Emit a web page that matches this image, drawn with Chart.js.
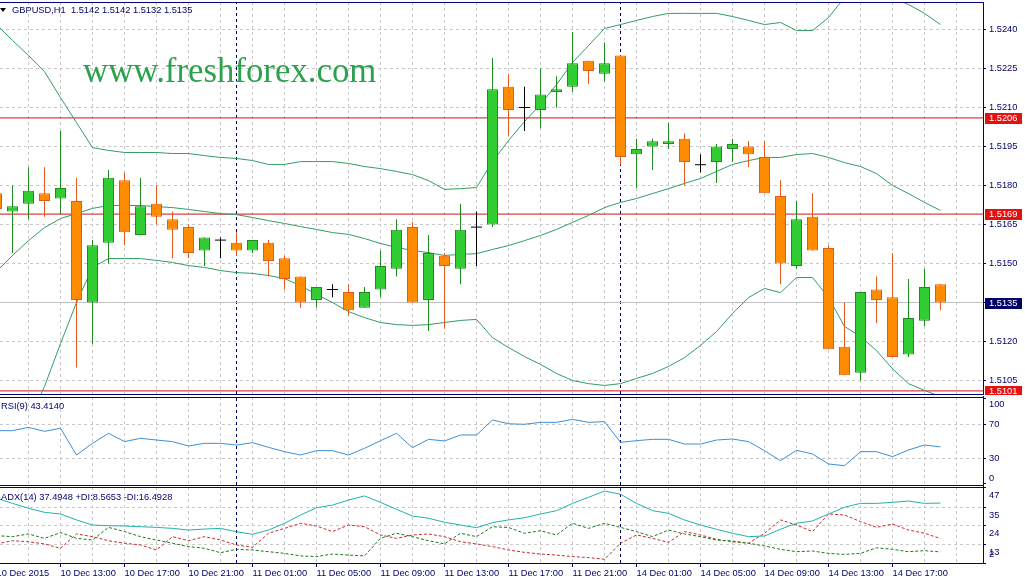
<!DOCTYPE html>
<html>
<head>
<meta charset="utf-8">
<title>GBPUSD,H1</title>
<script src="https://cdn.jsdelivr.net/npm/chart.js@4.4.1/dist/chart.umd.min.js"></script>
<style>
  html, body { margin:0; padding:0; background:#ffffff; }
  body { position:relative; width:1025px; height:585px; overflow:hidden; font-family:"Liberation Sans", Arial, sans-serif; }
  canvas { position:absolute; left:0; }
  #cMain { top:0; }
  #cRsi { top:396px; }
  #cAdx { top:486px; }
  .lbl { position:absolute; color:#000070; font-size:9.3px; line-height:12px; white-space:pre; }
  #title { left:12px; top:3.5px; }
  #tri { position:absolute; left:0; top:8px; width:0; height:0; border-left:3px solid transparent; border-right:3px solid transparent; border-top:4px solid #000; }
  #rsiLbl { left:1px; top:400px; }
  #adxLbl { left:1px; top:491px; }
  #wm { position:absolute; left:83px; top:54px; font-family:"Liberation Serif", "Times New Roman", serif; font-size:34.8px; line-height:34.5px; color:#2ba24c; white-space:pre; }
</style>
</head>
<body>
<canvas id="cMain" width="1025" height="395"></canvas>
<canvas id="cRsi" width="1025" height="90"></canvas>
<canvas id="cAdx" width="1025" height="99"></canvas>
<div id="tri"></div>
<div class="lbl" id="title">GBPUSD,H1  1.5142 1.5142 1.5132 1.5135</div>
<div id="wm">www.freshforex.com</div>
<div class="lbl" id="rsiLbl">RSI(9) 43.4140</div>
<div class="lbl" id="adxLbl">ADX(14) 37.4948 +DI:8.5653 -DI:16.4928</div>
<script>
// ================= DATA (bar -1 .. bar 58, hourly, 10 Dec 09:00 .. 14 Dec 20:00) =================
const firstBar = -1;
const open = [1.5177,1.5170,1.5173,1.5177,1.5175,1.5174,1.5135,1.5158,1.5182,1.5161,
  1.5173,1.5167,1.5164,1.5155,1.5159,1.5158,1.5155,1.5158,1.5152,1.5145,
  1.5136,1.5140,1.5139,1.5133,1.5140,1.5148,1.5164,1.5136,1.5153,1.5148,
  1.5164,1.5165,1.5218,1.5210,1.5209,1.5216,1.5218,1.5228,1.5223,1.5230,
  1.5192,1.5195,1.5196,1.5198,1.5188,1.5189,1.5194,1.5195,1.5191,1.5176,
  1.5149,1.5168,1.5156,1.5118,1.5108,1.5140,1.5137,1.5115,1.5128,1.5142];
const high = [1.5181,1.5180,1.5187,1.5187,1.5201,1.5183,1.5159,1.5186,1.5185,1.5183,
  1.5180,1.5170,1.5165,1.5160,1.5160,1.5162,1.5159,1.5159,1.5153,1.5145,
  1.5141,1.5142,1.5142,1.5141,1.5155,1.5167,1.5166,1.5161,1.5154,1.5173,
  1.5170,1.5229,1.5223,1.5218,1.5225,1.5222,1.5239,1.5228,1.5235,1.5230,
  1.5198,1.5198,1.5204,1.5200,1.5192,1.5196,1.5198,1.5197,1.5197,1.5182,
  1.5174,1.5177,1.5157,1.5135,1.5139,1.5145,1.5154,1.5144,1.5148,1.5142];
const low = [1.5166,1.5154,1.5167,1.5168,1.5169,1.5110,1.5119,1.5150,1.5157,1.5161,
  1.5165,1.5152,1.5152,1.5149,1.5152,1.5153,1.5154,1.5145,1.5140,1.5133,
  1.5133,1.5137,1.5130,1.5133,1.5137,1.5145,1.5135,1.5124,1.5125,1.5142,
  1.5149,1.5164,1.5199,1.5201,1.5202,1.5210,1.5216,1.5219,1.5220,1.5188,
  1.5179,1.5186,1.5194,1.5180,1.5185,1.5181,1.5189,1.5187,1.5177,1.5142,
  1.5148,1.5155,1.5117,1.5107,1.5105,1.5127,1.5114,1.5114,1.5126,1.5132];
const close = [1.5171,1.5172,1.5178,1.5174,1.5179,1.5136,1.5157,1.5183,1.5162,1.5172,
  1.5168,1.5163,1.5154,1.5160,1.5159,1.5155,1.5159,1.5151,1.5144,1.5135,
  1.5141,1.5140,1.5132,1.5139,1.5149,1.5163,1.5135,1.5154,1.5149,1.5163,
  1.5164,1.5217,1.5209,1.5210,1.5215,1.5217,1.5227,1.5224,1.5227,1.5191,
  1.5194,1.5197,1.5197,1.5189,1.5188,1.5195,1.5196,1.5192,1.5177,1.5150,
  1.5167,1.5155,1.5117,1.5107,1.5139,1.5136,1.5114,1.5129,1.5141,1.5135];
const bbUpper = [1.52419,1.52358,1.52300,1.52238,1.52138,1.52042,1.51946,1.51935,1.51927,1.51927,
  1.51927,1.51923,1.51923,1.51915,1.51908,1.51904,1.51896,1.51881,1.51881,1.51892,
  1.51892,1.51892,1.51885,1.51873,1.51865,1.51854,1.51842,1.51819,1.51785,1.51788,
  1.51792,1.51892,1.51973,1.52046,1.52112,1.52188,1.52273,1.52338,1.52404,1.52419,
  1.52435,1.52450,1.52462,1.52462,1.52462,1.52462,1.52450,1.52435,1.52419,1.52427,
  1.52396,1.52396,1.52446,1.52523,1.52558,1.52558,1.52523,1.52496,1.52462,1.52419];
const bbMiddle = [1.51469,1.51531,1.51588,1.51638,1.51673,1.51692,1.51712,1.51723,1.51723,1.51723,
  1.51719,1.51715,1.51708,1.51700,1.51692,1.51688,1.51677,1.51665,1.51654,1.51642,
  1.51631,1.51619,1.51612,1.51596,1.51577,1.51562,1.51550,1.51542,1.51531,1.51535,
  1.51538,1.51554,1.51569,1.51588,1.51608,1.51631,1.51658,1.51685,1.51715,1.51735,
  1.51750,1.51769,1.51788,1.51808,1.51827,1.51854,1.51881,1.51896,1.51908,1.51908,
  1.51919,1.51923,1.51908,1.51888,1.51873,1.51846,1.51800,1.51769,1.51735,1.51704];
const bbLower = [1.50704,1.50781,1.50896,1.51027,1.51192,1.51350,1.51485,1.51519,1.51519,1.51519,
  1.51512,1.51504,1.51492,1.51485,1.51473,1.51465,1.51462,1.51454,1.51442,1.51415,
  1.51381,1.51350,1.51315,1.51292,1.51273,1.51265,1.51262,1.51265,1.51273,1.51281,
  1.51285,1.51215,1.51177,1.51142,1.51112,1.51077,1.51050,1.51038,1.51031,1.51038,
  1.51058,1.51077,1.51104,1.51138,1.51185,1.51238,1.51308,1.51369,1.51404,1.51388,
  1.51446,1.51446,1.51369,1.51258,1.51219,1.51165,1.51095,1.51038,1.51012,1.50988];
const rsi = [62.5,62.5,66.4,61.7,65.3,33.9,47.6,59.4,49.6,53.5,
  51.5,49.6,44.5,47.6,47.6,45.6,48.4,42.9,37.8,33.9,
  39.0,39.0,33.9,41.7,50.7,59.4,42.5,52.3,50.4,57.4,
  57.4,75.1,70.6,70.0,72.3,72.3,75.8,72.3,73.1,48.8,
  50.7,52.3,52.3,46.8,46.8,51.5,52.7,49.6,39.0,27.2,
  39.4,35.1,23.3,21.3,37.8,37.8,31.9,39.8,45.6,43.41];
const adx = [40.3,37.3,34.4,32.0,31.0,27.5,24.5,24.1,23.9,23.5,
  23.1,22.5,21.5,22.1,22.5,20.5,19.0,21.5,25.5,30.4,
  34.7,36.3,39.3,41.7,37.9,33.8,29.8,28.5,26.1,24.5,
  22.9,25.9,27.5,28.8,31.0,33.0,37.3,40.9,44.6,42.7,
  37.3,33.0,31.4,27.5,24.5,22.0,19.6,17.6,18.0,22.0,
  25.5,26.9,31.0,35.0,37.3,37.3,37.9,38.7,37.3,37.49];
const plusDI = [18.2,17.6,19.2,16.6,20.0,16.6,15.6,23.1,20.6,17.6,
  15.6,13.7,11.7,10.7,8.1,10.1,9.7,8.7,7.7,6.2,
  5.8,7.3,6.7,6.2,16.6,19.6,17.6,15.2,13.3,19.6,
  17.6,23.5,23.0,19.6,21.1,18.6,25.5,22.5,25.5,23.1,
  20.6,17.6,21.5,19.2,17.6,15.6,15.0,13.7,12.1,10.1,
  8.7,9.1,7.7,7.1,7.7,11.0,10.1,8.7,9.3,8.57];
const minusDI = [13.3,15.2,14.6,13.3,10.7,19.2,17.6,15.2,13.7,12.7,
  9.7,17.6,15.2,17.6,15.6,12.7,11.3,19.6,22.5,25.5,
  23.9,20.6,24.5,23.5,18.6,16.6,18.6,19.2,17.6,14.6,
  13.3,11.7,9.7,8.3,7.3,6.7,5.8,5.2,4.2,13.7,
  18.6,16.6,14.2,20.6,18.6,16.0,14.6,13.7,19.6,27.5,
  24.5,20.6,31.0,30.4,26.5,23.1,25.1,21.5,19.6,16.49];

const priceTicks = [1.5105,1.5120,1.5135,1.5150,1.5165,1.5180,1.5195,1.5210,1.5225,1.5240];
const rsiTicks = [0,30,70,100];
const rsiLevels = [30,70];
const adxTicks = [2,13,24,35,47];
const adxGridLevels = [13,24,35];
const timeTickBars = [-1,3,7,11,15,19,23,27,31,35,39,43,47,51,55];
const timeTickLabels = ['10 Dec 2015','10 Dec 13:00','10 Dec 17:00','10 Dec 21:00','11 Dec 01:00',
  '11 Dec 05:00','11 Dec 09:00','11 Dec 13:00','11 Dec 17:00','11 Dec 21:00','14 Dec 01:00',
  '14 Dec 05:00','14 Dec 09:00','14 Dec 13:00','14 Dec 17:00'];
const daySeparators = [14,38];
const levelLines = [1.5206,1.5169,1.5101];
const bidPrice = 1.5135;

// ================= VIEW =================
const X_MIN = -0.78125, X_MAX = 60.65625;
const P_MIN = 1.509981, P_MAX = 1.525058;
const RSI_MIN = -1.4, RSI_MAX = 102.1;
const ADX_MIN = 2, ADX_MAX = 47;

const TEXT = '#000070', AXIS = '#000080', GRID = '#c8c8c8';
const BULL = '#32CD32', BULL_EDGE = '#1E8B1E', BEAR = '#FF8C00', BEAR_EDGE = '#E8581A';
const BB = '#2f9e62', LEVEL = '#cc1414', BID = '#c0c0c0', SEP = '#000060';
const LEVEL_BOX = '#e51010', BID_BOX = '#000066';
const RSI_C = '#3b8fd4', ADX_C = '#20B2AA', PDI_C = '#1a7a1a', MDI_C = '#cc2a2a';
const FONT = '"Liberation Sans", Arial, sans-serif';

Chart.defaults.font.family = FONT;
Chart.defaults.font.size = 9.3;
Chart.defaults.color = TEXT;
Chart.defaults.animation = false;

const xs = open.map((_, k) => firstBar + k);
const gridBars = [];
for (let b = -1; b <= 59; b += 2) gridBars.push(b);

const isDoji = k => open[k] === close[k];
const fillColor = k => isDoji(k) ? '#000000' : (close[k] > open[k] ? BULL : BEAR);
const edgeColor = k => isDoji(k) ? '#000000' : (close[k] > open[k] ? BULL_EDGE : BEAR_EDGE);
const allIdx = xs.map((_, k) => k);
const bodyIdx = allIdx.filter(k => !isDoji(k));
const dojiIdx = allIdx.filter(k => isDoji(k));

const series = arr => xs.map((x, k) => ({x, y: arr[k]}));
const hline = y => [{x: X_MIN, y}, {x: X_MAX, y}];
const vline = (x, a, b) => [{x, y: a}, {x, y: b}];
const lineDs = (data, color, order, extra) => Object.assign({type:'line', data, borderColor: color, borderWidth: 1, pointRadius: 0, tension: 0, order}, extra || {});

function xAxis(showLabels) {
  return {
    type: 'linear', min: X_MIN, max: X_MAX, offset: false,
    afterBuildTicks: s => { s.ticks = gridBars.map(v => ({value: v})); },
    afterFit: s => { s.height = showLabels ? 22 : 0; s.paddingLeft = 0; s.paddingRight = 0; },
    grid: {
      offset: false, color: GRID, lineWidth: 1, drawTicks: showLabels, tickLength: 4, tickBorderDash: [],
      tickColor: c => (c.tick && timeTickBars.includes(c.tick.value)) ? AXIS : 'rgba(0,0,0,0)'
    },
    border: { display: false, dash: [3,3] },
    ticks: {
      display: showLabels, autoSkip: false, maxRotation: 0, minRotation: 0, align: 'start', padding: 1, color: TEXT,
      callback: v => { const i = timeTickBars.indexOf(v); return i >= 0 ? timeTickLabels[i] : ''; }
    }
  };
}
function yAxis(min, max, ticks, gridFn, labelFn, labelOffset) {
  return {
    type: 'linear', position: 'right', min, max,
    afterBuildTicks: s => { s.ticks = ticks.map(v => ({value: v})); },
    afterFit: s => { s.width = 42; s.paddingTop = 0; s.paddingBottom = 0; },
    grid: { color: gridFn, lineWidth: 1, drawTicks: true, tickLength: 3, tickColor: AXIS, tickBorderDash: [] },
    border: { display: false, dash: [3,3] },
    ticks: { autoSkip: false, padding: 3, color: TEXT, labelOffset: labelOffset || 0, callback: labelFn }
  };
}

const framePlugin = {
  id: 'mtFrame',
  afterDraw(chart, args, opts) {
    const {ctx, chartArea: a} = chart;
    ctx.save();
    ctx.strokeStyle = AXIS; ctx.lineWidth = 1; ctx.setLineDash([]);
    ctx.beginPath();
    ctx.moveTo(0, a.top + 0.5); ctx.lineTo(a.right + 1, a.top + 0.5);
    ctx.moveTo(0, a.bottom + 0.5); ctx.lineTo(a.right + 1, a.bottom + 0.5);
    const vTop = opts.vTop === 'area' ? a.top : 0;
    const vBot = opts.vBottom === 'area' ? a.bottom + 1 : chart.height;
    ctx.moveTo(a.right + 0.5, vTop); ctx.lineTo(a.right + 0.5, vBot);
    ctx.stroke();
    ctx.restore();
  }
};
const levelLabelPlugin = {
  id: 'levelLabels',
  afterDraw(chart) {
    const s = chart.scales.y, ctx = chart.ctx, a = chart.chartArea;
    ctx.save();
    ctx.font = '9.3px ' + FONT;
    ctx.textBaseline = 'middle'; ctx.textAlign = 'left';
    const draw = (p, bg) => {
      const py = Math.round(s.getPixelForValue(p));
      ctx.fillStyle = bg; ctx.fillRect(a.right + 2, py - 5, 37, 11);
      ctx.fillStyle = '#ffffff'; ctx.fillText(p.toFixed(4), a.right + 6, py + 0.5);
    };
    levelLines.forEach(p => draw(p, LEVEL_BOX));
    draw(bidPrice, BID_BOX);
    ctx.restore();
  }
};

const common = {
  responsive: false, maintainAspectRatio: false, animation: false, events: [],
};

// ---------- main price chart ----------
new Chart(document.getElementById('cMain'), {
  type: 'bar',
  data: { datasets: [
    { type: 'bar', data: bodyIdx.map(k => ({x: xs[k], y: [open[k], close[k]]})),
      backgroundColor: bodyIdx.map(fillColor), borderColor: bodyIdx.map(edgeColor), borderWidth: 1,
      borderSkipped: false, barThickness: 11, grouped: false, inflateAmount: 0, order: 0 },
    lineDs(dojiIdx.map(k => ({x: xs[k], y: close[k]})), '#000000', 0,
      { showLine: false, pointStyle: 'line', pointRadius: 5.5, pointBorderColor: '#000000', pointBorderWidth: 1 }),
    { type: 'bar', data: xs.map((x, k) => ({x, y: [low[k], high[k]]})),
      backgroundColor: allIdx.map(edgeColor), borderWidth: 0, barThickness: 1, grouped: false, inflateAmount: 0, order: 1 },
    lineDs(series(bbUpper), BB, 2),
    lineDs(series(bbMiddle), BB, 2),
    lineDs(series(bbLower), BB, 2),
    ...levelLines.map(p => lineDs(hline(p), LEVEL, 3)),
    lineDs(hline(bidPrice), BID, 4),
    ...daySeparators.map(d => lineDs(vline(d, P_MIN, P_MAX), SEP, 4, { borderDash: [3,3] }))
  ]},
  options: Object.assign({}, common, {
    layout: { autoPadding: false, padding: { top: 2, bottom: 1, left: 0, right: 0 } },
    plugins: { legend: {display: false}, tooltip: {enabled: false}, mtFrame: { vTop: 'area', vBottom: 'canvas' } },
    scales: {
      x: xAxis(false),
      y: yAxis(P_MIN, P_MAX, priceTicks, GRID, v => Number(v).toFixed(4), 0)
    }
  }),
  plugins: [framePlugin, levelLabelPlugin]
});

// ---------- RSI ----------
new Chart(document.getElementById('cRsi'), {
  type: 'line',
  data: { datasets: [
    lineDs(series(rsi), RSI_C, 0),
    ...daySeparators.map(d => lineDs(vline(d, RSI_MIN, RSI_MAX), SEP, 1, { borderDash: [3,3] }))
  ]},
  options: Object.assign({}, common, {
    layout: { autoPadding: false, padding: { top: 1, bottom: 1, left: 0, right: 0 } },
    plugins: { legend: {display: false}, tooltip: {enabled: false}, mtFrame: { vTop: 'canvas', vBottom: 'canvas' } },
    scales: {
      x: xAxis(false),
      y: yAxis(RSI_MIN, RSI_MAX, rsiTicks,
        c => (c.tick && rsiLevels.includes(c.tick.value)) ? GRID : 'rgba(0,0,0,0)',
        v => v === 100 ? ['', '100'] : (v === 0 ? ['0', ''] : String(v)), 0)
    }
  }),
  plugins: [framePlugin]
});

// ---------- ADX ----------
new Chart(document.getElementById('cAdx'), {
  type: 'line',
  data: { datasets: [
    lineDs(series(adx), ADX_C, 0),
    lineDs(series(plusDI), PDI_C, 1, { borderDash: [3,2] }),
    lineDs(series(minusDI), MDI_C, 1, { borderDash: [3,2] }),
    ...daySeparators.map(d => lineDs(vline(d, ADX_MIN, ADX_MAX), SEP, 2, { borderDash: [3,3] }))
  ]},
  options: Object.assign({}, common, {
    layout: { autoPadding: false, padding: { top: 1, bottom: 0, left: 0, right: 0 } },
    plugins: { legend: {display: false}, tooltip: {enabled: false}, mtFrame: { vTop: 'canvas', vBottom: 'area' } },
    scales: {
      x: xAxis(true),
      y: yAxis(ADX_MIN, ADX_MAX, adxTicks,
        c => (c.tick && adxGridLevels.includes(c.tick.value)) ? GRID : 'rgba(0,0,0,0)',
        v => v === 2 ? ['2', '', '', ''] : String(v), 8)
    }
  }),
  plugins: [framePlugin]
});
</script>
</body>
</html>
